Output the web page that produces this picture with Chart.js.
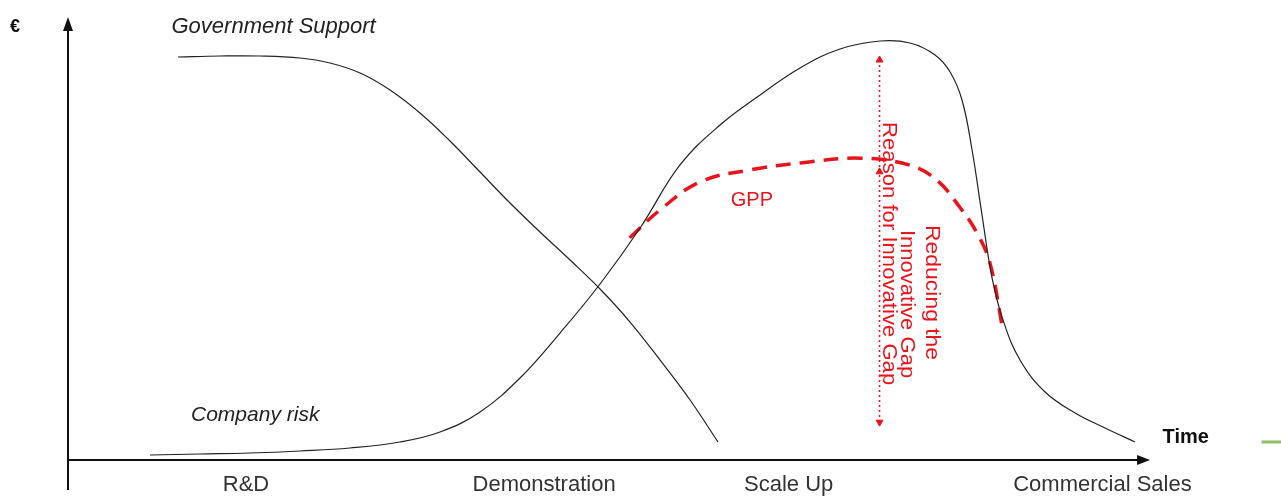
<!DOCTYPE html>
<html><head><meta charset="utf-8">
<script src="https://cdn.jsdelivr.net/npm/chart.js@4.4.1/dist/chart.umd.min.js"></script>
<style>html,body{margin:0;padding:0;background:#fff;overflow:hidden}#wrap{position:relative;width:1281px;height:496px}</style>
</head><body><div id="wrap"><canvas id="c" width="1281" height="496"></canvas></div>
<script>
// ---- data (time 0..100 along x axis, value 0..100 along € axis) ----
const govTime  = [10.17, 14.05, 17.74, 21.44, 24.21, 26.99, 29.76, 32.53, 35.30, 38.08, 40.85, 43.62, 46.40, 49.17, 51.94, 54.71, 57.49, 60.07];
const govValue = [91.59, 91.82, 91.82, 91.36, 90.23, 87.95, 84.09, 78.86, 72.50, 65.45, 58.41, 51.82, 45.45, 38.86, 31.36, 22.73, 13.64, 4.09];

const riskTime  = [7.58, 12.20, 16.82, 21.44, 26.06, 30.68, 34.38, 38.08, 41.77, 45.47, 49.17, 52.87, 56.56, 60.26, 63.96, 67.65, 71.35, 75.05, 77.82, 80.13, 81.52, 82.62, 83.55, 84.47, 85.40, 86.41, 87.98, 90.30, 93.07, 95.84, 98.61];
const riskValue = [1.14, 1.36, 1.59, 2.05, 2.73, 4.09, 6.36, 10.91, 18.64, 28.86, 40.00, 52.73, 67.05, 76.14, 82.95, 89.09, 93.41, 95.23, 94.77, 92.05, 88.18, 81.82, 70.45, 55.68, 41.36, 31.82, 22.73, 15.45, 10.68, 7.27, 4.09];

const gppTime  = [51.9, 54.7, 58.4, 63.0, 67.7, 73.2, 77.8, 80.3, 82.4, 84.0, 85.2, 86.4];
const gppValue = [50.5, 56.8, 63.2, 65.9, 67.5, 68.6, 67.0, 63.6, 57.5, 51.6, 44.8, 29.5];

const gapTime  = [75.0, 75.0, 75.0];
const gapValue = [90.9, 65.5, 8.6];
const gapArrowRotation = [0, 0, 180];

const markTime  = [110.3, 112.1];
const markValue = [4.1, 4.1];

const stageLabels = ['R&D', 'Demonstration', 'Scale Up', 'Commercial Sales'];
const stageTime   = [16.45, 44.0, 66.6, 95.6];

const zip = (xs, ys) => xs.map((x, i) => ({x, y: ys[i]}));

// ---- text annotations (anchored in data units) ----
const notes = [
  {text: 'Government Support', x: 19.0, y: 98.4, font: 'italic 22px "Liberation Sans", Arial, sans-serif', color: '#222'},
  {text: 'Company risk', x: 17.3, y: 10.2, font: 'italic 21px "Liberation Sans", Arial, sans-serif', color: '#222'},
  {text: 'GPP', x: 63.2, y: 58.9, font: '20px "Liberation Sans", Arial, sans-serif', color: '#e8141c'},
  {text: 'Time', x: 103.3, y: 5.2, font: 'bold 20px "Liberation Sans", Arial, sans-serif', color: '#111'},
  {text: '€', x: -4.9, y: 98.4, font: 'bold 18px "Liberation Sans", Arial, sans-serif', color: '#111'}
];
const vnotes = [
  {text: 'Reason for Innovative Gap', x: 75.8, yTop: 76.8, yBot: 17.0},
  {text: 'Innovative Gap', x: 77.5, yTop: 52.3, yBot: 18.6},
  {text: 'Reducing the', x: 79.8, yTop: 53.4, yBot: 22.7}
];

const overlay = {
  id: 'overlay',
  beforeDatasetsDraw(chart) {
    const ctx = chart.ctx, xs = chart.scales.x, ys = chart.scales.y;
    const x0 = xs.getPixelForValue(0), y0 = ys.getPixelForValue(0);
    const yTop = ys.getPixelForValue(100), xEnd = xs.getPixelForValue(100);
    ctx.save();
    ctx.strokeStyle = '#111'; ctx.fillStyle = '#111'; ctx.lineWidth = 2;
    // y axis
    ctx.beginPath(); ctx.moveTo(x0, chart.height - 6); ctx.lineTo(x0, yTop + 10); ctx.stroke();
    ctx.beginPath(); ctx.moveTo(x0, yTop - 3); ctx.lineTo(x0 - 5, yTop + 11); ctx.lineTo(x0 + 5, yTop + 11); ctx.closePath(); ctx.fill();
    // x axis
    ctx.beginPath(); ctx.moveTo(x0, y0); ctx.lineTo(xEnd - 10, y0); ctx.stroke();
    ctx.beginPath(); ctx.moveTo(xEnd, y0); ctx.lineTo(xEnd - 13, y0 - 5); ctx.lineTo(xEnd - 13, y0 + 5); ctx.closePath(); ctx.fill();
    ctx.restore();
  },
  afterDatasetsDraw(chart) {
    const ctx = chart.ctx, xs = chart.scales.x, ys = chart.scales.y;
    ctx.save();
    ctx.textAlign = 'center'; ctx.textBaseline = 'middle';
    notes.forEach(n => {
      ctx.font = n.font; ctx.fillStyle = n.color;
      ctx.fillText(n.text, xs.getPixelForValue(n.x), ys.getPixelForValue(n.y));
    });
    ctx.font = '22px "Liberation Sans", Arial, sans-serif'; ctx.fillStyle = '#333';
    const yLab = ys.getPixelForValue(0) + 25;
    stageLabels.forEach((s, i) => ctx.fillText(s, xs.getPixelForValue(stageTime[i]), yLab));
    // rotated red texts
    ctx.fillStyle = '#e8141c';
    ctx.font = '20px "Liberation Sans", Arial, sans-serif';
    vnotes.forEach(v => {
      const px = xs.getPixelForValue(v.x);
      const pt = ys.getPixelForValue(v.yTop), pb = ys.getPixelForValue(v.yBot);
      const len = pb - pt, w = ctx.measureText(v.text).width;
      ctx.save();
      ctx.translate(px, (pt + pb) / 2);
      ctx.rotate(Math.PI / 2);
      ctx.scale(len / w, 1);
      ctx.fillText(v.text, 0, 0);
      ctx.restore();
    });
    ctx.restore();
  }
};

new Chart(document.getElementById('c'), {
  type: 'line',
  data: {
    datasets: [
      {label: 'Government Support', data: zip(govTime, govValue), borderColor: '#222', borderWidth: 1.2, pointRadius: 0, tension: 0.4, fill: false},
      {label: 'Company risk', data: zip(riskTime, riskValue), borderColor: '#222', borderWidth: 1.2, pointRadius: 0, tension: 0.4, fill: false},
      {label: 'GPP', data: zip(gppTime, gppValue), borderColor: '#e8141c', borderWidth: 3.5, borderDash: [15, 9], pointRadius: 0, tension: 0.4, fill: false},
      {label: 'Gap', data: zip(gapTime, gapValue), borderColor: '#e8141c', borderWidth: 1.5, borderDash: [2, 3], pointStyle: 'triangle', pointRadius: 4, pointRotation: gapArrowRotation, pointBackgroundColor: '#e8141c', pointBorderColor: '#e8141c', pointBorderWidth: 1, fill: false},
      {label: 'mark', data: zip(markTime, markValue), borderColor: '#8cc063', borderWidth: 3, pointRadius: 0, fill: false, clip: false}
    ]
  },
  options: {
    responsive: false, animation: false, devicePixelRatio: 1,
    layout: {autoPadding: false, padding: {left: 68, right: 0, top: 20, bottom: 36}},
    plugins: {legend: {display: false}, tooltip: {enabled: false}},
    scales: {
      x: {type: 'linear', min: 0, max: 112.1, display: false},
      y: {type: 'linear', min: 0, max: 100, display: false}
    }
  },
  plugins: [overlay]
});
</script>
</body></html>
